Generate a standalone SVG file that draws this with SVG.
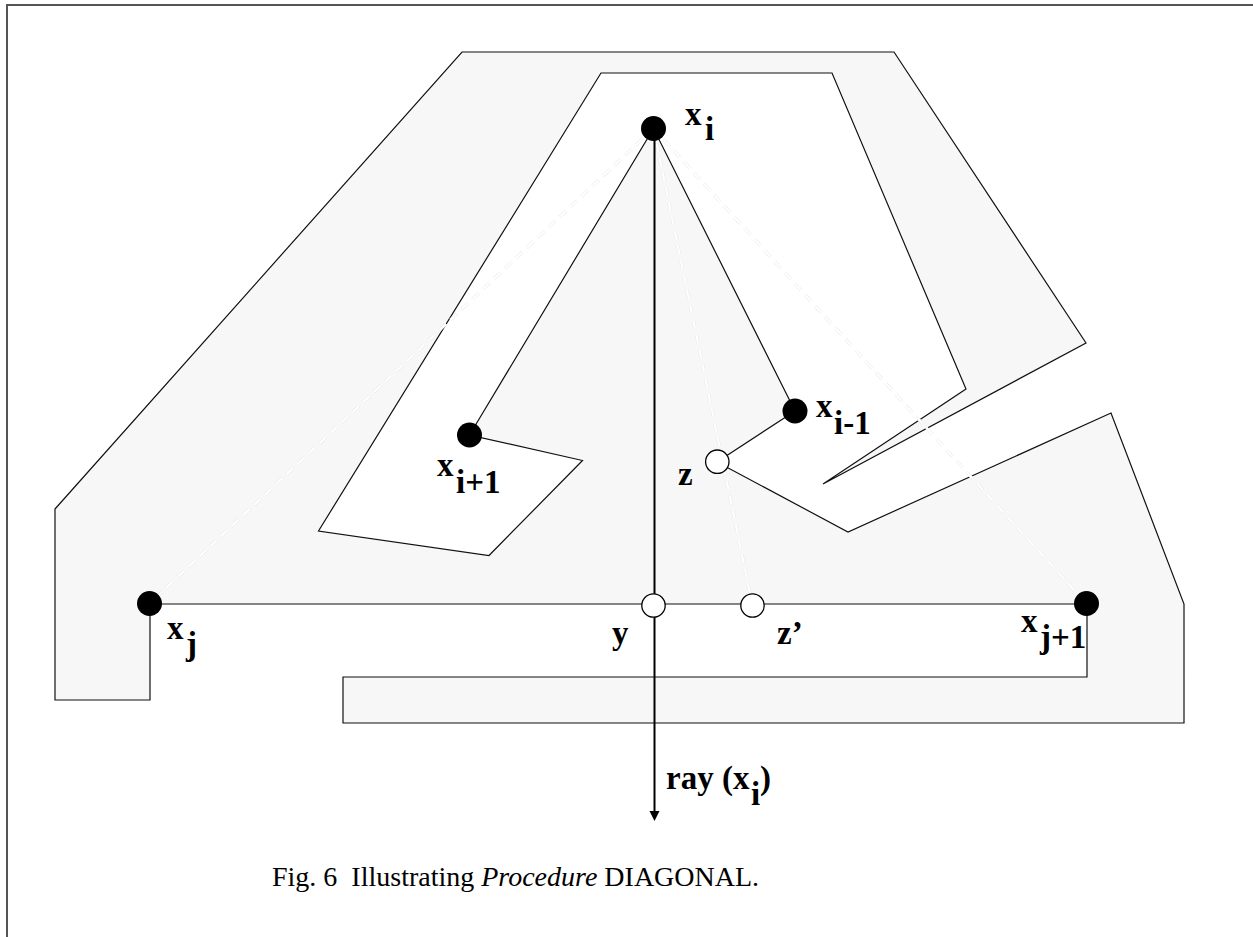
<svg xmlns="http://www.w3.org/2000/svg" width="1253" height="937" viewBox="0 0 1253 937">
<style>
.frame{fill:none;stroke:#555;stroke-width:2}
.poly{fill:#f7f7f7;stroke:#111;stroke-width:1.2;stroke-linejoin:miter}
.dashU{fill:none;stroke:#e4e4e4;stroke-width:3;stroke-dasharray:9 6}
.dashW{fill:none;stroke:#fff;stroke-width:2.2;stroke-dasharray:9 6}
.ray{fill:none;stroke:#000;stroke-width:2}
.solid{fill:#000;stroke:none}
.open{fill:#fff;stroke:#000;stroke-width:1.3}
.lbl{font-family:"Liberation Serif","Times New Roman",serif;font-weight:bold;font-size:33px;fill:#000}
.cap{font-family:"Liberation Serif","Times New Roman",serif;font-size:28px;fill:#000}
</style>
<rect width="1253" height="937" fill="#fff"/>
<path class="frame" d="M7,937 V5 H1253"/>
<g id="polygon">
<polygon class="poly" points="55,509 462,52 894,52 1086,343 823,484 966,389 832,73 601,73 318.5,531 489,555.5 582.5,460.5 469.5,435 653.5,128.5 795,411 717,462 848,532 1111,413 1184,604 1184,723 343,723 343,677 1087,677 1087,604 150,604 150,700 55,700"/>
</g>
<g id="connectors">
<g id="dashed">
<line class="dashU" x1="653.5" y1="128.5" x2="149.5" y2="603.5"/>
<line class="dashU" x1="653.5" y1="128.5" x2="1086.5" y2="603.5"/>
<line class="dashU" x1="653.5" y1="128.5" x2="752.5" y2="605.5"/>
<line class="dashW" x1="653.5" y1="128.5" x2="149.5" y2="603.5"/>
<line class="dashW" x1="653.5" y1="128.5" x2="1086.5" y2="603.5"/>
<line class="dashW" x1="653.5" y1="128.5" x2="752.5" y2="605.5"/>
</g>
<g id="ray">
<line class="ray" x1="654.5" y1="128.5" x2="654.5" y2="813"/>
<polygon class="solid" points="649.5,811 659.5,811 654.5,821"/>
</g>
</g>
<g id="node-xi"><circle class="solid" cx="653.5" cy="128.5" r="12.5"/><text class="lbl" x="685" y="125">x<tspan x="705" y="140">i</tspan></text></g>
<g id="node-xi1"><circle class="solid" cx="469.5" cy="435" r="12.5"/><text class="lbl" x="437" y="476">x<tspan x="456" y="493">i+1</tspan></text></g>
<g id="node-xim1"><circle class="solid" cx="795" cy="411" r="12.5"/><text class="lbl" x="816" y="417">x<tspan x="834" y="434">i-1</tspan></text></g>
<g id="node-z"><circle class="open" cx="717.3" cy="461.7" r="11.7"/><text class="lbl" x="678" y="485">z</text></g>
<g id="node-xj"><circle class="solid" cx="149.5" cy="603.5" r="12.5"/><text class="lbl" x="167" y="639">x<tspan x="186" y="655">j</tspan></text></g>
<g id="node-xj1"><circle class="solid" cx="1086.5" cy="603.5" r="12.5"/><text class="lbl" x="1021" y="632">x<tspan x="1040" y="648">j+1</tspan></text></g>
<g id="node-y"><circle class="open" cx="653.5" cy="605.5" r="11.7"/><text class="lbl" x="612" y="644">y</text></g>
<g id="node-zp"><circle class="open" cx="752.5" cy="605.5" r="11.7"/><text class="lbl" x="777" y="644">z’</text></g>
<g id="label-ray"><text class="lbl" x="666" y="789">ray (x<tspan x="751" y="805">i</tspan><tspan x="760" y="789">)</tspan></text></g>
<g id="caption"><text class="cap" x="272" y="886" xml:space="preserve">Fig. 6  Illustrating <tspan font-style="italic">Procedure</tspan> DIAGONAL.</text></g>
</svg>
